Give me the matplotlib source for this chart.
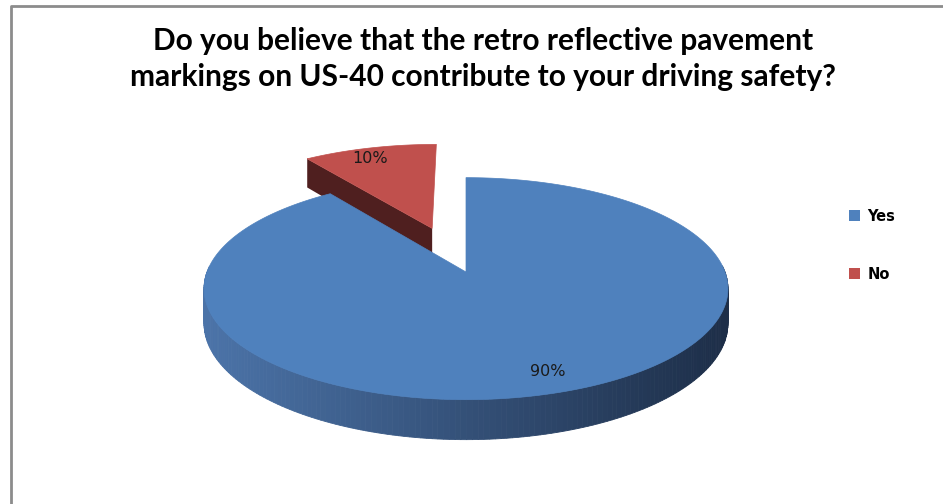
import numpy as np
import matplotlib
matplotlib.use("Agg")
import matplotlib.pyplot as plt
from matplotlib.patches import Polygon, Patch
from matplotlib.colors import to_rgb

title = "Do you believe that the retro reflective pavement\nmarkings on US-40 contribute to your driving safety?"
labels = ["Yes", "No"]
values = [90, 10]
explode = [0.0, 0.45]
top_colors = ["#4F81BD", "#C0504D"]
side_left = ["#4B73A8", "#8A3533"]
side_right = ["#1D2E48", "#4E1F1F"]
cut_colors = ["#2C4670", "#4F1F1F"]

# layout of the pie in pixel coords
cx, cy = 466, 272
rx, ry = 259, 108.5
depth = 34
k = 0.15


def proj(u, v, z=0.0):
    s = 1.0 / (1.0 + k * v)
    return cx + rx * u * s, cy - ry * v * s + depth * z * s


def mix(c1, c2, t):
    a = np.array(to_rgb(c1))
    b = np.array(to_rgb(c2))
    t = min(max(t, 0), 1)
    return tuple(a + (b - a) * t)


fig = plt.figure(figsize=(9.43, 5.04), dpi=100)
ax = fig.add_axes([0, 0, 1, 1])
ax.set_xlim(0, 943)
ax.set_ylim(504, 0)
ax.axis("off")

# chart frame
ax.plot([11, 11, 943], [504, 6, 6], color="#8C8C8C", lw=2, solid_capstyle="butt")

total = float(sum(values))
starts = np.cumsum([0] + values[:-1]) / total * 360
spans = np.array(values) / total * 360

# draw back wedge (No) first so Yes covers it
order = [1, 0]
for i in order:
    a0 = np.radians(starts[i])
    a1 = np.radians(starts[i] + spans[i])
    mid = (a0 + a1) / 2
    ou = explode[i] * np.sin(mid)
    ov = explode[i] * np.cos(mid)
    th = np.linspace(a0, a1, 300)

    # radial cut face at the start angle (faces the viewer for the back wedge)
    if i == 1:
        pts = [proj(ou, ov, 0), proj(ou + np.sin(a0), ov + np.cos(a0), 0),
               proj(ou + np.sin(a0), ov + np.cos(a0), 1), proj(ou, ov, 1)]
        ax.add_patch(Polygon(pts, closed=True, fc=cut_colors[i], ec="none", zorder=2))

    # outer side with horizontal gradient
    for j in range(len(th) - 1):
        t0, t1 = th[j], th[j + 1]
        if np.cos((t0 + t1) / 2) > 0.05:
            continue
        p = [proj(ou + np.sin(t0), ov + np.cos(t0), 0), proj(ou + np.sin(t1), ov + np.cos(t1), 0),
             proj(ou + np.sin(t1), ov + np.cos(t1), 1), proj(ou + np.sin(t0), ov + np.cos(t0), 1)]
        xm = (p[0][0] + p[1][0]) / 2
        c = mix(side_left[i], side_right[i], (xm - (cx - rx)) / (2 * rx))
        ax.add_patch(Polygon(p, closed=True, fc=c, ec=c, lw=0.6, zorder=3))

    # top face
    top = [proj(ou, ov, 0)] + [proj(ou + np.sin(t), ov + np.cos(t), 0) for t in th]
    ax.add_patch(Polygon(top, closed=True, fc=top_colors[i], ec=top_colors[i], lw=0.5, zorder=4))

    # percentage label
    lx, ly = proj(ou + 0.85 * np.sin(mid), ov + 0.85 * np.cos(mid), 0)
    if i == 1:
        lx -= 8
    else:
        lx += 4
    ax.text(lx, ly, "%d%%" % values[i], ha="center", va="center", fontsize=11.5,
            color="#1A1A1A", zorder=6)

ax.text(483, 59, title, ha="center", va="center", fontsize=21.5, fontweight="bold",
        family="Lato", linespacing=1.32, color="black")

handles = [Patch(fc=c, ec="none") for c in top_colors]
leg = ax.legend(handles, labels, loc="upper left", bbox_to_anchor=(0.886, 0.612),
                frameon=False, handlelength=0.8, handleheight=0.8, handletextpad=0.5,
                labelspacing=2.95, prop={"family": "DejaVu Sans", "weight": "bold", "size": 10.5})

fig.savefig("out.png", dpi=100)
